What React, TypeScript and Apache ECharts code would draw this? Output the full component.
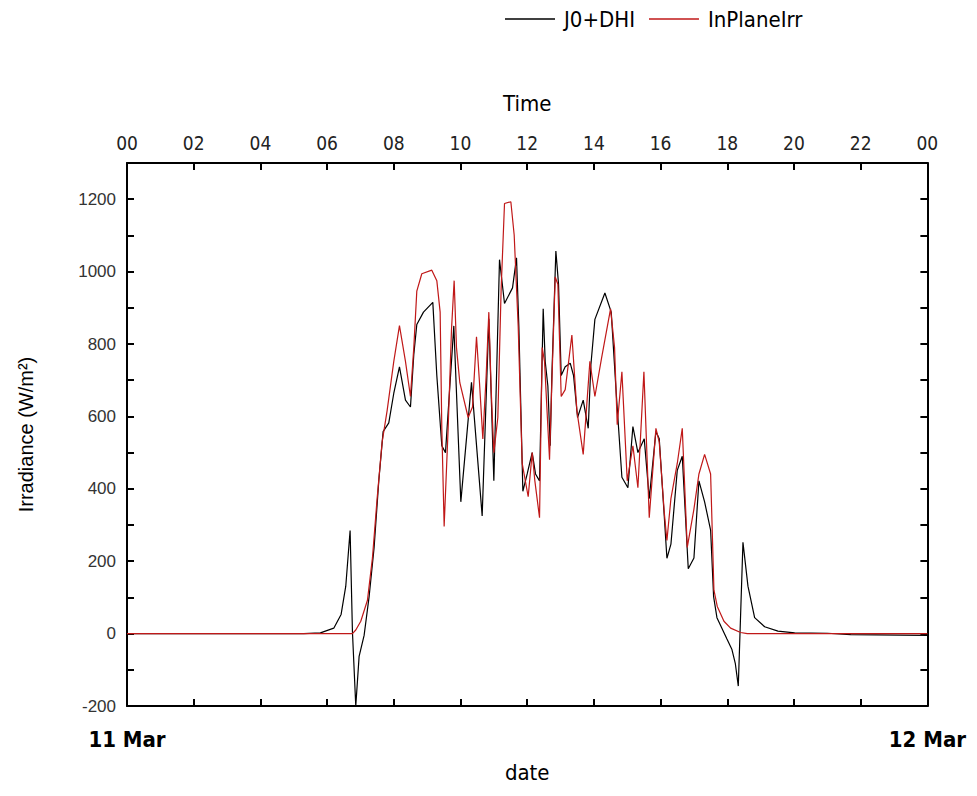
import React, { useEffect, useRef } from "react";
import * as echarts from "echarts";

const NARROW = "'Liberation Sans Narrow', 'DejaVu Sans Condensed', 'Liberation Sans', Arial, sans-serif";
const REG = "'Liberation Sans', Arial, sans-serif";

const seriesNames = ["J0+DHI", "InPlaneIrr"];
const dateLabels = ["11 Mar", "12 Mar"];

// J0+DHI (black): time in hours, irradiance W/m²
const j0Time = [0, 5.3, 5.8, 6.2, 6.42, 6.56, 6.69, 6.76, 6.86, 6.96, 7.11, 7.26, 7.41, 7.55, 7.68, 7.85, 8.0, 8.17, 8.35, 8.5, 8.6, 8.69, 8.89, 9.17, 9.29, 9.44, 9.55, 9.8, 10.01, 10.33, 10.65, 10.85, 11.0, 11.17, 11.32, 11.56, 11.68, 11.75, 11.87, 12.0, 12.15, 12.25, 12.37, 12.48, 12.54, 12.62, 12.69, 12.74, 12.86, 12.94, 13.02, 13.14, 13.29, 13.39, 13.51, 13.68, 13.83, 13.91, 14.03, 14.33, 14.52, 14.67, 14.84, 15.02, 15.17, 15.32, 15.51, 15.66, 15.86, 15.96, 16.11, 16.19, 16.31, 16.5, 16.65, 16.83, 17.0, 17.15, 17.32, 17.5, 17.59, 17.69, 17.99, 18.14, 18.24, 18.33, 18.47, 18.62, 18.82, 19.12, 19.52, 20.02, 21.0, 21.7, 24];
const j0Value = [0, 0, 2, 15, 53, 131, 285, 5, -200, -63, -5, 102, 238, 422, 558, 582, 664, 737, 645, 626, 771, 854, 888, 915, 713, 519, 500, 850, 364, 694, 325, 870, 422, 1033, 912, 955, 1038, 849, 393, 441, 500, 441, 422, 897, 752, 684, 519, 713, 1057, 965, 713, 737, 747, 713, 597, 645, 567, 742, 868, 941, 888, 664, 432, 403, 572, 500, 538, 373, 558, 538, 325, 208, 247, 451, 490, 179, 209, 422, 364, 286, 102, 44, -15, -44, -82, -145, 252, 131, 44, 19, 7, 2, 1, -3, -5];

// InPlaneIrr (red)
const ipTime = [0, 6.76, 6.86, 7.01, 7.21, 7.36, 7.5, 7.65, 7.8, 8.0, 8.17, 8.35, 8.5, 8.6, 8.69, 8.84, 9.14, 9.29, 9.39, 9.44, 9.51, 9.63, 9.73, 9.81, 9.88, 9.98, 10.23, 10.36, 10.48, 10.57, 10.67, 10.77, 10.85, 10.92, 11.0, 11.12, 11.22, 11.32, 11.51, 11.61, 11.73, 11.85, 12.03, 12.15, 12.23, 12.37, 12.45, 12.52, 12.67, 12.74, 12.84, 12.92, 13.02, 13.14, 13.34, 13.49, 13.68, 13.88, 14.03, 14.23, 14.5, 14.62, 14.7, 14.84, 15.0, 15.17, 15.32, 15.5, 15.66, 15.86, 15.96, 16.11, 16.19, 16.31, 16.5, 16.65, 16.8, 17.0, 17.15, 17.32, 17.5, 17.6, 17.7, 17.9, 18.1, 18.4, 18.6, 24];
const ipValue = [0, 0, 10, 34, 92, 209, 373, 529, 616, 752, 851, 752, 655, 790, 946, 994, 1004, 975, 888, 567, 296, 567, 839, 975, 790, 693, 597, 626, 820, 693, 538, 713, 888, 674, 500, 597, 955, 1188, 1193, 1101, 849, 470, 378, 500, 422, 320, 790, 752, 480, 694, 985, 965, 655, 674, 825, 616, 495, 752, 655, 761, 897, 790, 577, 723, 422, 519, 403, 723, 320, 567, 529, 335, 257, 373, 470, 567, 238, 344, 441, 495, 441, 120, 75, 34, 15, 3, 0, 0];

const pairs = (t: number[], v: number[]) => t.map((x, i) => [x, v[i]]);

export default function App() {
  const ref = useRef<HTMLDivElement>(null);
  useEffect(() => {
    if (!ref.current) return;
    const chart = echarts.init(ref.current, undefined, { renderer: "svg" });
    const axisLine = { show: true, onZero: false, lineStyle: { color: "#000", width: 2 } };
    const tick = { show: true, inside: true, length: 7, lineStyle: { color: "#000", width: 2 } };
    chart.setOption({
      animation: false,
      backgroundColor: "#fff",
      legend: {
        data: seriesNames,
        left: 497,
        top: 0,
        padding: 0,
        icon: "rect",
        itemWidth: 50,
        itemHeight: 1.5,
        itemGap: 14,
        textStyle: { fontFamily: NARROW, fontSize: 22, color: "#000", padding: [0, 0, 0, 4] },
      },
      grid: { left: 116, right: 37, top: 155, bottom: 78, containLabel: false },
      xAxis: [
        {
          type: "value",
          position: "bottom",
          min: 0,
          max: 24,
          interval: 2,
          name: "date",
          nameLocation: "middle",
          nameGap: 55,
          nameTextStyle: { fontFamily: NARROW, fontSize: 22, color: "#000" },
          axisLine,
          axisTick: tick,
          splitLine: { show: false },
          axisLabel: {
            margin: 22,
            fontFamily: NARROW,
            fontSize: 22,
            fontWeight: "bold",
            color: "#000",
            showMaxLabel: true,
            formatter: (v: number) => (v === 0 ? dateLabels[0] : v === 24 ? dateLabels[1] : ""),
          },
        },
        {
          type: "value",
          position: "top",
          min: 0,
          max: 24,
          interval: 2,
          name: "Time",
          nameLocation: "middle",
          nameGap: 49,
          nameTextStyle: { fontFamily: NARROW, fontSize: 22, color: "#000" },
          axisLine,
          axisTick: tick,
          splitLine: { show: false },
          axisLabel: {
            margin: 11,
            fontFamily: NARROW,
            fontSize: 19,
            color: "#222",
            formatter: (v: number) => {
              const h = Math.round(v) % 24;
              return h < 10 ? "0" + h : String(h);
            },
          },
        },
      ],
      yAxis: [
        {
          type: "value",
          position: "left",
          min: -200,
          max: 1300,
          interval: 100,
          name: "Irradiance (W/m²)",
          nameLocation: "middle",
          nameGap: 91,
          nameRotate: 90,
          nameTextStyle: { fontFamily: REG, fontSize: 20, color: "#000" },
          axisLine,
          axisTick: tick,
          splitLine: { show: false },
          axisLabel: {
            margin: 11,
            fontFamily: REG,
            fontSize: 17,
            color: "#333",
            formatter: (v: number) => (v % 200 === 0 && v <= 1200 ? String(v) : ""),
          },
        },
        {
          type: "value",
          position: "right",
          min: -200,
          max: 1300,
          interval: 100,
          axisLine,
          axisTick: tick,
          splitLine: { show: false },
          axisLabel: { show: false },
        },
      ],
      series: [
        {
          name: seriesNames[0],
          type: "line",
          data: pairs(j0Time, j0Value),
          showSymbol: false,
          symbol: "none",
          lineStyle: { color: "#000", width: 1.2 },
          itemStyle: { color: "#000" },
          z: 2,
        },
        {
          name: seriesNames[1],
          type: "line",
          data: pairs(ipTime, ipValue),
          showSymbol: false,
          symbol: "none",
          lineStyle: { color: "#c01818", width: 1.2 },
          itemStyle: { color: "#c01818" },
          z: 3,
        },
      ],
    });
    return () => chart.dispose();
  }, []);
  return <div ref={ref} style={{ width: 961, height: 780 }} />;
}
